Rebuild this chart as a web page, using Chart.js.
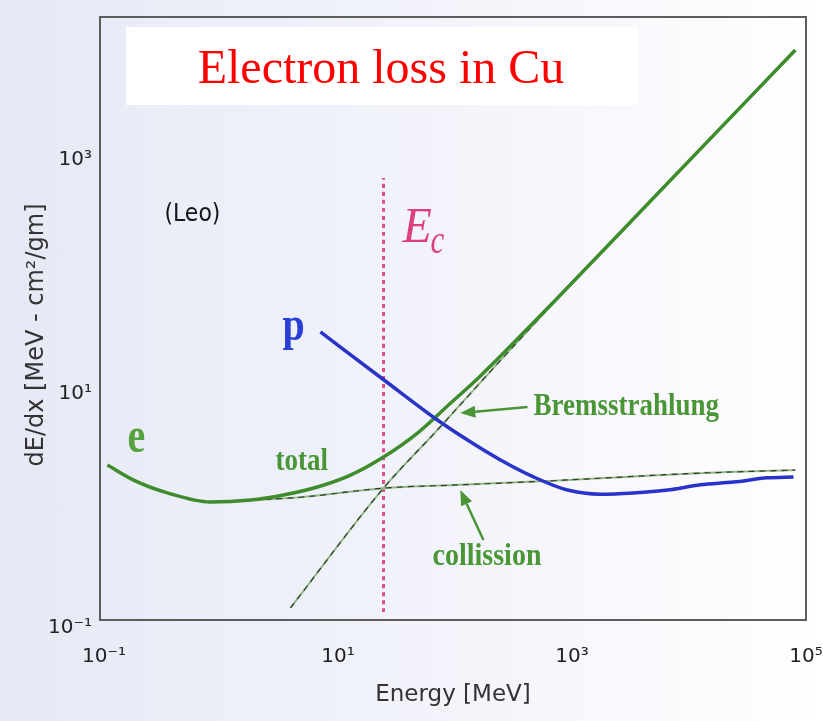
<!DOCTYPE html>
<html>
<head>
<meta charset="utf-8">
<script src="https://cdn.jsdelivr.net/npm/chart.js@4.4.1/dist/chart.umd.min.js"></script>
<style>
  html, body { margin: 0; padding: 0; }
  body {
    width: 823px; height: 721px; overflow: hidden;
    background: linear-gradient(to right, #e6e8f5 0%, #eef0f9 35%, #f7f7fc 70%, #ffffff 100%);
  }
  canvas { display: block; }
</style>
</head>
<body>
<canvas id="c" width="823" height="721"></canvas>
<script>
// Energy loss of electrons in copper (after Leo).
// Energies in MeV, dE/dx in MeV cm^2/g.
const xTickValues = [0.1, 10, 1000, 100000];
const xTickLabels = ['10⁻¹', '10¹', '10³', '10⁵'];
const yTickValues = [0.1, 10, 1000];
const yTickLabels = ['10⁻¹', '10¹', '10³'];

const totalEnergy = [0.107, 0.179, 0.349, 0.813, 1.79, 3.42, 6.68, 12.8, 24.5, 47.8, 86.3, 165, 316, 752, 4690, 81000];
const totalLoss   = [2.11, 1.57, 1.22, 1.02, 1.06, 1.17, 1.37, 1.73, 2.47, 3.96, 6.75, 12.2, 23.3, 56.5, 381, 7450];

const bremsEnergy = [3.93, 24.5, 70.8, 213, 752, 81000];
const bremsLoss   = [0.127, 1.34, 4.21, 14.2, 55.5, 7300];

const collisionEnergy = [0.813, 4.78, 24.5, 111, 593, 12500, 81000];
const collisionLoss   = [1.02, 1.12, 1.34, 1.43, 1.54, 1.80, 1.91];

const protonEnergy = [7.08, 24.9, 70.8, 128, 245, 469, 915, 1750, 3360, 6550, 12500, 24000, 46900, 78200];
const protonLoss   = [29.0, 11.2, 5.12, 3.45, 2.33, 1.67, 1.29, 1.19, 1.22, 1.29, 1.43, 1.51, 1.64, 1.67];

// critical energy of copper and the extent of its marker line
const criticalEnergy = 24.5;
const criticalSpan = [0.117, 600];

const pts = (xs, ys) => xs.map((x, i) => ({ x, y: ys[i] }));

// text labels placed in data coordinates
const notes = [
  { text: '(Leo)', x: 0.570, y: 290, font: '22px "DejaVu Sans"', color: '#151515', align: 'center', base: 'middle', sy: 1.15 },
  { text: 'E', x: 35.6, y: 170, font: 'italic 48px "Liberation Serif"', color: '#dc3f7c', align: 'left', base: 'alphabetic', sy: 1.05 },
  { text: 'c', x: 61.7, y: 137, font: 'italic 31px "Liberation Serif"', color: '#dc3f7c', align: 'left', base: 'alphabetic', sy: 1.3 },
  { text: 'p', x: 3.36, y: 24.7, font: 'bold 40px "Liberation Serif"', color: '#2a3fd6', align: 'left', base: 'alphabetic', sy: 1.22 },
  { text: 'e', x: 0.159, y: 2.73, font: 'bold 40px "Liberation Serif"', color: '#55a23e', align: 'left', base: 'alphabetic', sy: 1.25 },
  { text: 'total', x: 2.93, y: 1.91, font: 'bold 27px "Liberation Serif"', color: '#4a9636', align: 'left', base: 'alphabetic', sy: 1.15 },
  { text: 'Bremsstrahlung', x: 469, y: 5.65, font: 'bold 27px "Liberation Serif"', color: '#4a9636', align: 'left', base: 'alphabetic', sy: 1.2 },
  { text: 'collission', x: 64.3, y: 0.295, font: 'bold 28px "Liberation Serif"', color: '#4a9636', align: 'left', base: 'alphabetic', sy: 1.15 }
];

// pointer arrows: tail -> head, data coordinates
const arrows = [
  { from: [417, 6.62], to: [111, 5.87] },
  { from: [175, 0.483], to: [111, 1.29] }
];

const decor = {
  id: 'decor',
  afterDatasetsDraw(chart) {
    const { ctx, scales: { x, y } } = chart;
    ctx.save();
    // arrows
    ctx.strokeStyle = '#4a9636';
    ctx.fillStyle = '#4a9636';
    ctx.lineWidth = 2.5;
    arrows.forEach(a => {
      const x0 = x.getPixelForValue(a.from[0]), y0 = y.getPixelForValue(a.from[1]);
      const x1 = x.getPixelForValue(a.to[0]), y1 = y.getPixelForValue(a.to[1]);
      const ang = Math.atan2(y1 - y0, x1 - x0);
      const L = 15, W = 6;
      const bx = x1 - L * Math.cos(ang), by = y1 - L * Math.sin(ang);
      ctx.beginPath();
      ctx.moveTo(x0, y0);
      ctx.lineTo(bx, by);
      ctx.stroke();
      ctx.beginPath();
      ctx.moveTo(x1, y1);
      ctx.lineTo(bx + W * Math.sin(ang), by - W * Math.cos(ang));
      ctx.lineTo(bx - W * Math.sin(ang), by + W * Math.cos(ang));
      ctx.closePath();
      ctx.fill();
    });
    // text labels
    notes.forEach(n => {
      ctx.save();
      ctx.translate(x.getPixelForValue(n.x), y.getPixelForValue(n.y));
      ctx.scale(1, n.sy);
      ctx.font = n.font;
      ctx.fillStyle = n.color;
      ctx.textAlign = n.align;
      ctx.textBaseline = n.base;
      ctx.fillText(n.text, 0, 0);
      ctx.restore();
    });
    // title panel
    ctx.fillStyle = '#ffffff';
    ctx.fillRect(126, 27, 512, 78);
    ctx.font = '48px "Liberation Serif"';
    ctx.fillStyle = '#ff0000';
    ctx.textAlign = 'center';
    ctx.textBaseline = 'alphabetic';
    ctx.fillText('Electron loss in Cu', 381, 83);
    ctx.restore();
  },
  afterDraw(chart) {
    const { ctx, chartArea: a } = chart;
    ctx.save();
    ctx.strokeStyle = '#5d5d5d';
    ctx.lineWidth = 2;
    ctx.strokeRect(a.left, a.top, a.right - a.left, a.bottom - a.top);
    // vertical axis title
    ctx.translate(37, 335);
    ctx.rotate(-Math.PI / 2);
    ctx.font = '24px "DejaVu Sans"';
    ctx.fillStyle = '#333333';
    ctx.textAlign = 'center';
    ctx.textBaseline = 'middle';
    ctx.fillText('dE/dx [MeV - cm²/gm]', 0, 0);
    ctx.restore();
  }
};

const line = (data, color, width, order, extra) => Object.assign({
  data, showLine: true, borderColor: color, backgroundColor: color,
  borderWidth: width, pointRadius: 0, fill: false, order,
  cubicInterpolationMode: 'monotone'
}, extra || {});

new Chart(document.getElementById('c'), {
  type: 'scatter',
  data: {
    datasets: [
      line(pts([criticalEnergy, criticalEnergy], criticalSpan), '#e24d8a', 3, 7, { borderDash: [4, 4] }),
      line(pts(collisionEnergy, collisionLoss), '#93b884', 2, 6),
      line(pts(collisionEnergy, collisionLoss), '#2e3b2e', 1.2, 5, { borderDash: [6, 5] }),
      line(pts(bremsEnergy, bremsLoss), '#93b884', 2, 6),
      line(pts(bremsEnergy, bremsLoss), '#2e3b2e', 1.2, 5, { borderDash: [6, 5] }),
      line(pts(totalEnergy, totalLoss), '#3e8c2b', 3.5, 2),
      line(pts(protonEnergy, protonLoss), '#2a33c9', 3.5, 1)
    ]
  },
  options: {
    responsive: false,
    animation: false,
    events: [],
    layout: { padding: { top: 17, right: 17, left: 0, bottom: 0 } },
    plugins: { legend: { display: false }, tooltip: { enabled: false } },
    scales: {
      x: {
        type: 'logarithmic', position: 'bottom', min: 0.0925, max: 100000,
        afterBuildTicks: s => { s.ticks = xTickValues.map(v => ({ value: v })); },
        afterFit: s => { s.height = 101; s.paddingLeft = 0; s.paddingRight = 0; },
        grid: { display: false, drawTicks: false },
        border: { display: false },
        ticks: {
          padding: 25, color: '#222', autoSkip: false, maxRotation: 0,
          font: { family: 'DejaVu Sans', size: 20 },
          callback: (v, i) => xTickLabels[i]
        },
        title: {
          display: true, text: 'Energy [MeV]', color: '#333',
          font: { family: 'DejaVu Sans', size: 23 },
          padding: { top: 0, bottom: 12 }
        }
      },
      y: {
        type: 'logarithmic', position: 'left', min: 0.1, max: 14250,
        afterBuildTicks: s => { s.ticks = yTickValues.map(v => ({ value: v })); },
        afterFit: s => { s.width = 100; s.paddingTop = 0; s.paddingBottom = 0; },
        grid: { display: false, drawTicks: false },
        border: { display: false },
        ticks: {
          padding: 8, labelOffset: 8, color: '#222', autoSkip: false,
          font: { family: 'DejaVu Sans', size: 20 },
          callback: (v, i) => yTickLabels[i]
        }
      }
    }
  },
  plugins: [decor]
});
</script>
</body>
</html>
